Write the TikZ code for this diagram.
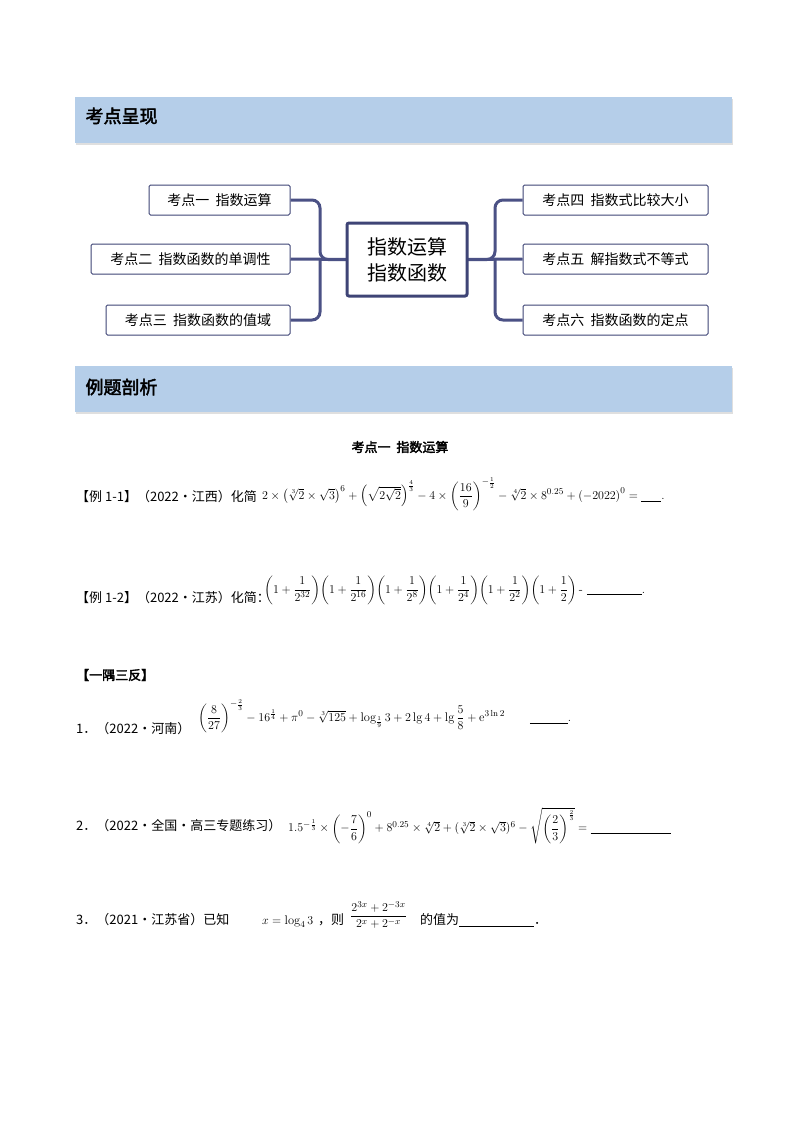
\documentclass[tikz,border=0pt]{standalone}
\usepackage{amsmath}
\usepackage{fontspec}
\newfontfamily\cjk{Noto Sans CJK SC}[AutoFakeBold=2.5]
\usetikzlibrary{shadows}
\definecolor{band}{HTML}{B5CEE9}
\definecolor{navy}{HTML}{3E4476}
\definecolor{conn}{HTML}{4B5185}
\begin{document}
\begin{tikzpicture}[x=1pt,y=-1pt,
  bandbox/.style={fill=band,draw=none,minimum width=657pt,minimum height=46pt,anchor=north west,drop shadow={opacity=0.25,shadow xshift=1pt,shadow yshift=-2pt}},
  bandtxt/.style={anchor=west,font=\cjk\bfseries\fontsize{18}{20}\selectfont},
  topic/.style={draw=navy,line width=1pt,rounded corners=1.5pt,minimum height=30pt,inner xsep=6pt,font=\cjk\fontsize{14}{16}\selectfont,fill=white},
  center/.style={draw=navy,line width=3pt,rounded corners=2pt,minimum width=120pt,minimum height=73pt,font=\cjk\fontsize{20}{26}\selectfont,align=center,fill=white},
  link/.style={draw=conn,line width=3pt,rounded corners=8pt},
  body/.style={anchor=west,font=\cjk\fontsize{13}{15}\selectfont,inner sep=0pt},
  mth/.style={anchor=west,font=\fontsize{12.5}{15}\selectfont,inner sep=0pt}]
\useasboundingbox[fill=white] (0,0) rectangle (800,1132);
% header 1
\node[bandbox] (h1) at (75,97) {};
\node[bandtxt] (h1t) at (82,116) {考点呈现};
% mind map
\node[topic,minimum width=141pt] (b1) at (219.5,200) {考点一\ \ 指数运算};
\node[topic,minimum width=199pt] (b2) at (190.5,259) {考点二\ \ 指数函数的单调性};
\node[topic,minimum width=184pt] (b3) at (198,320) {考点三\ \ 指数函数的值域};
\node[topic,minimum width=185pt] (b4) at (615.5,200) {考点四\ \ 指数式比较大小};
\node[topic,minimum width=185pt] (b5) at (615.5,259) {考点五\ \ 解指数式不等式};
\node[topic,minimum width=185pt] (b6) at (615.5,320) {考点六\ \ 指数函数的定点};
\coordinate (jl) at (320,259.5);
\coordinate (jr) at (495,259.5);
\coordinate (cw) at (350,259.5);
\coordinate (ce) at (464,259.5);
\draw[link] (b1.east) -| (jl) -- (cw);
\draw[link] (b3.east) -| (jl);
\draw[link] (b2.east) -- (cw);
\draw[link] (b4.west) -| (jr) -- (ce);
\draw[link] (b6.west) -| (jr);
\draw[link] (b5.west) -- (ce);
\node[center] (c) at (407,259.5) {指数运算\\指数函数};
% header 2
\node[bandbox] (h2) at (75,366) {};
\node[bandtxt] (h2t) at (82,387) {例题剖析};
\node[font=\cjk\bfseries\fontsize{13}{15}\selectfont] (k1) at (400,447) {考点一\ \ 指数运算};
% example 1-1
\node[body] (e1) at (76,497) {【例 1-1】（2022·江西）化简};
\node[mth] (f1) at (262,494) {$2\times\left(\sqrt[3]{2}\times\sqrt{3}\right)^{6}+\left(\sqrt{2\sqrt{2}}\right)^{\frac43}-4\times\left(\dfrac{16}{9}\right)^{-\frac12}-\sqrt[4]{2}\times8^{0.25}+\left(-2022\right)^{0}=\underline{\hspace{20pt}}.$};
% example 1-2
\node[body] (e2) at (76,598) {【例 1-2】（2022·江苏）化简：};
\node[mth] (f2) at (264,590) {$\left(1+\dfrac{1}{2^{32}}\right)\!\left(1+\dfrac{1}{2^{16}}\right)\!\left(1+\dfrac{1}{2^{8}}\right)\!\left(1+\dfrac{1}{2^{4}}\right)\!\left(1+\dfrac{1}{2^{2}}\right)\!\left(1+\dfrac{1}{2}\right)\text{-}\ \underline{\hspace{55pt}}.$};
% yi yu san fan
\node[font=\cjk\bfseries\fontsize{13}{15}\selectfont,anchor=west,inner sep=0pt] (y) at (76,675) {【一隅三反】};
\node[body] (q1) at (76,729) {1．（2022·河南）};
\node[mth] (g1) at (198,716) {$\left(\dfrac{8}{27}\right)^{-\frac23}-16^{\frac14}+\pi^{0}-\sqrt[3]{125}+\log_{\frac19}3+2\lg4+\lg\dfrac{5}{8}+\mathrm{e}^{3\ln2}\qquad\underline{\hspace{38pt}}.$};
\node[body] (q2) at (76,826) {2．（2022·全国·高三专题练习）};
\node[mth] (g2) at (288,826) {$1.5^{-\frac13}\times\left(-\dfrac{7}{6}\right)^{0}+8^{0.25}\times\sqrt[4]{2}+(\sqrt[3]{2}\times\sqrt{3})^{6}-\sqrt{\left(\dfrac{2}{3}\right)^{\frac23}}=\underline{\hspace{80pt}}$};
\node[body] (q3) at (76,920) {3．（2021·江苏省）已知};
\node[mth] (g3) at (262,922) {$x=\log_{4}3$};
\node[body] (q3b) at (318,920) {，则};
\node[mth] (g3b) at (350,915) {$\dfrac{2^{3x}+2^{-3x}}{2^{x}+2^{-x}}$};
\node[body] (q3c) at (420,920) {的值为\underline{\hspace{75pt}}．};
\end{tikzpicture}
\end{document}
